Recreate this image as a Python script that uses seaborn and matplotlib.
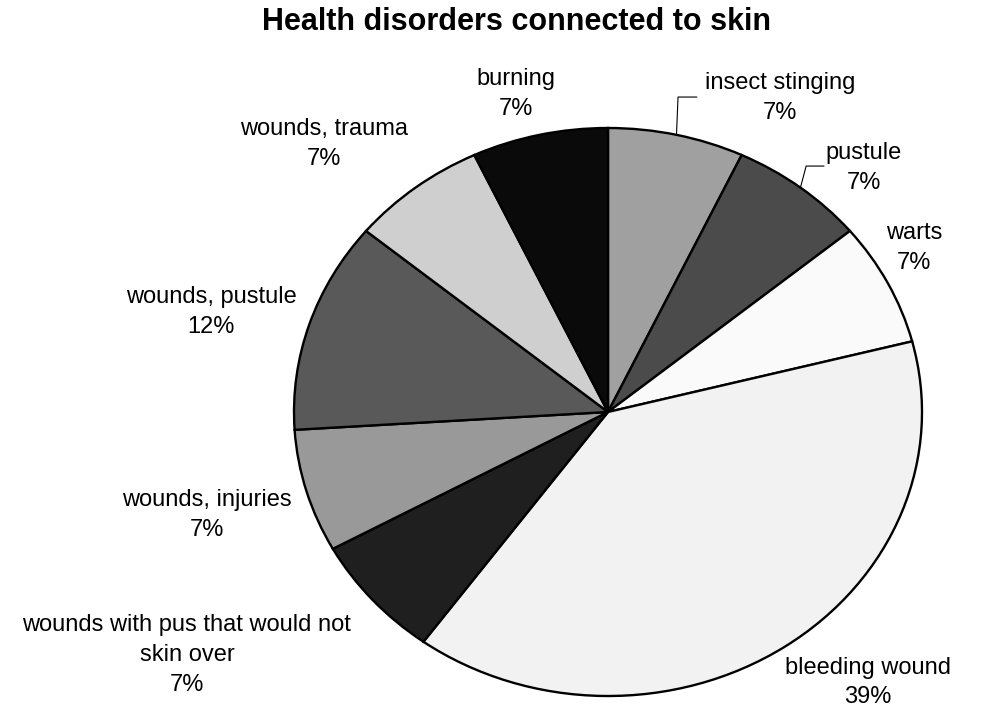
import matplotlib
matplotlib.use("Agg")
import matplotlib.pyplot as plt
import numpy as np
import seaborn as sns

# Skin-related health disorders, clockwise from 12 o'clock
categories = [
    "insect stinging",
    "pustule",
    "warts",
    "bleeding wound",
    "wounds with pus that would not\nskin over",
    "wounds, injuries",
    "wounds, pustule",
    "wounds, trauma",
    "burning",
]
shares = [7, 7, 7, 39, 7, 7, 12, 7, 7]

slice_colors = ["#a0a0a0", "#4b4b4b", "#fafafa", "#f2f2f2", "#1f1f1f",
                "#999999", "#595959", "#cfcfcf", "#0a0a0a"]

# label centres in axes data units (pie radius = 1)
label_xy = [(0.548, 1.106), (0.815, 0.859), (0.975, 0.577), (0.828, -0.953),
            (-1.341, -0.856), (-1.277, -0.363), (-1.264, 0.352),
            (-0.904, 0.944), (-0.293, 1.120)]

sns.set_theme(style="white")
plt.rcParams["font.family"] = ["Liberation Sans", "DejaVu Sans"]

W, H = 981, 708
fig = plt.figure(figsize=(W / 100, H / 100), dpi=100)
fig.patch.set_facecolor("white")

cx, cy, rx, ry = 608, 412, 314, 284
ax = fig.add_axes([(cx - rx) / W, (H - cy - ry) / H, 2 * rx / W, 2 * ry / H])

wedges, _ = ax.pie(
    shares,
    colors=slice_colors,
    startangle=90,
    counterclock=False,
    radius=1,
    wedgeprops=dict(edgecolor="black", linewidth=1.7),
)
ax.set_aspect("auto")
ax.set_xlim(-1, 1)
ax.set_ylim(-1, 1)
ax.axis("off")

for name, val, (lx, ly) in zip(categories, shares, label_xy):
    ax.text(lx, ly, f"{name}\n{val}%", ha="center", va="center",
            fontsize=17, color="black", linespacing=1.45, clip_on=False)

# leader lines for the two small labels at the top right
for i, (elbow, end) in {0: ((0.223, 1.109), (0.283, 1.109)),
                        1: ((0.631, 0.866), (0.688, 0.866))}.items():
    w = wedges[i]
    mid = np.deg2rad((w.theta1 + w.theta2) / 2)
    sx, sy = np.cos(mid), np.sin(mid)
    ax.plot([sx, elbow[0], end[0]], [sy, elbow[1], end[1]],
            color="black", linewidth=0.8, clip_on=False)

fig.text(517 / W, 1 - 22 / H, "Health disorders connected to skin",
         ha="center", va="center", fontsize=22, fontweight="bold",
         color="black")

fig.savefig("out.png", dpi=100, facecolor="white")
